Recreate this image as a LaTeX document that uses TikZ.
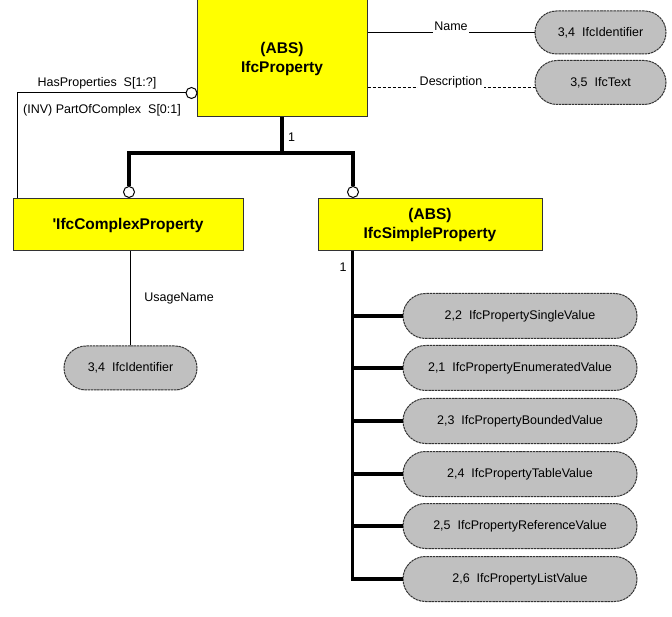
\documentclass[tikz,border=0pt]{standalone}
\usepackage{fontspec}
\setmainfont{Liberation Sans}
\usetikzlibrary{positioning,calc,shapes.misc}
\def\wThin{1pt}
\def\wHeavy{3.6pt}
\definecolor{cEnt}{HTML}{FFFF00}
\definecolor{cType}{HTML}{C0C0C0}
\definecolor{cInk}{HTML}{000000}
\definecolor{cRim}{HTML}{333333}
\tikzset{
  expg/.style={font=\fontsize{12.5}{15}\selectfont, every node/.style={align=center}},
  entity/.style={draw=cRim, line width=\wThin, fill=cEnt, inner sep=0pt,
    font=\fontsize{15.5}{19}\selectfont\bfseries},
  dtype/.style={rounded rectangle, rounded rectangle arc length=180, draw=cRim, line width=\wThin,
    dash pattern=on 2.5pt off 0.7pt, fill=cType, inner sep=0pt},
  valtype/.style={dtype, minimum width=234pt, minimum height=45pt},
  ring/.style={circle, draw=cInk, fill=white, line width=\wThin, minimum size=11pt, inner sep=0pt},
  attr/.style={draw=cInk, line width=\wThin},
  attr-opt/.style={attr, dash pattern=on 3pt off 2pt},
  super/.style={draw=cInk, line width=\wHeavy},
  role/.style={fill=white, inner xsep=1.5pt, inner ysep=4pt, anchor=base, yshift=2pt},
}

\begin{document}
\begin{tikzpicture}[expg, x=1pt, y=-1pt]
% screen-shot pixel grid, y running down
\useasboundingbox (0,0) rectangle (672,617);
\node[entity, minimum width=170pt, minimum height=117pt] (prop) at (282,58.5) {(ABS)\\IfcProperty};
\node[entity, minimum width=230pt, minimum height=52pt] (cplx) at (128,225) {\textquotesingle IfcComplexProperty};
\node[entity, minimum width=224pt, minimum height=52pt] (simple) at (430,225) {(ABS)\\IfcSimpleProperty};
\node[dtype, minimum width=131pt, minimum height=43pt] (nameT) at (600.5,32.5) {3,4\ \ IfcIdentifier};
\node[dtype, minimum width=131pt, minimum height=44pt] (descT) at (600.5,82.5) {3,5\ \ IfcText};
\node[dtype, minimum width=133pt, minimum height=44pt] (usageT) at (130.5,368) {3,4\ \ IfcIdentifier};
\node[valtype] (v1) at (520,316) {2,2\ \ IfcPropertySingleValue};
\node[valtype] (v2) at (520,368) {2,1\ \ IfcPropertyEnumeratedValue};
\node[valtype] (v3) at (520,421) {2,3\ \ IfcPropertyBoundedValue};
\node[valtype] (v4) at (520,474) {2,4\ \ IfcPropertyTableValue};
\node[valtype] (v5) at (520,526) {2,5\ \ IfcPropertyReferenceValue};
\node[valtype] (v6) at (520,579) {2,6\ \ IfcPropertyListValue};
\node[ring] (hp) at (191.5,93) {};
\node[ring] (ga) at (129,192) {};
\node[ring] (gb) at (353,192) {};
\coordinate (fork) at (282,153);
\coordinate (trunk) at ([xshift=35pt]simple.south west);
\draw[attr] (hp.west) -| ([xshift=5pt]cplx.north west);
\node (hpLbl) at (97,83) {HasProperties\ \ S[1:?]};
\node (invLbl) at (102,110) {(INV) PartOfComplex\ \ S[0:1]};
\draw[attr] (prop.east |- nameT.west) -- (nameT.west) node[midway, role] (nameLbl) {Name};
\draw[attr-opt] (prop.east |- 0,88) -- ([yshift=-5.5pt]descT.west) node[midway, role] (descLbl) {Description};
\draw[attr] (usageT.north |- cplx.south) -- (usageT.north) node[midway, right=10pt] (usageLbl) {UsageName};
\draw[super] (prop.south) -- (fork) node[pos=0.55, right=1pt] (propOne) {1};
\draw[super] (ga.north) |- (fork) -| (gb.north);
\draw[super] (trunk) |- (v6.west);
\draw[super] (trunk |- v1.west) -- (v1.west);
\draw[super] (trunk |- v2.west) -- (v2.west);
\draw[super] (trunk |- v3.west) -- (v3.west);
\draw[super] (trunk |- v4.west) -- (v4.west);
\draw[super] (trunk |- v5.west) -- (v5.west);
\node (simpleOne) at (343,267) {1};
\end{tikzpicture}
\end{document}
